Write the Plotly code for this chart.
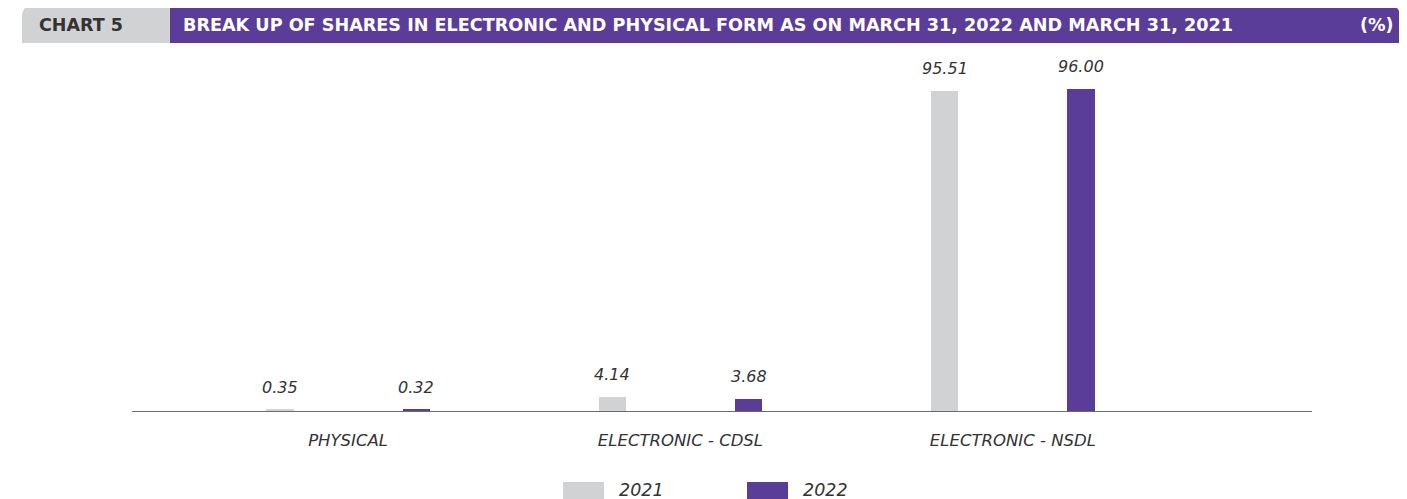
import plotly.graph_objects as go

categories = ["PHYSICAL", "ELECTRONIC - CDSL", "ELECTRONIC - NSDL"]
years = ["2021", "2022"]
values_2021 = [0.35, 4.14, 95.51]
values_2022 = [0.32, 3.68, 96.00]

OFF = 8  # browser body margin
W, H = 1407 - OFF, 499 - OFF
L, R, T, B = 132 - OFF, 1312 - OFF, 50 - OFF, 411 - OFF  # plot area in figure px
GRAY = "#D1D2D4"
PURPLE = "#5A3D99"
TXT = "#333333"
FONT = "DejaVu Sans"

def px(x):  # x in screenshot pixels
    return (x - OFF - L) / (R - L)

def py(y):
    return (B - (y - OFF)) / (B - T)

xpos = list(range(len(categories)))
off = 0.205
bw = 0.082

fig = go.Figure()
for vals, col, sign, name in [(values_2021, GRAY, -1, years[0]), (values_2022, PURPLE, 1, years[1])]:
    fig.add_trace(go.Bar(
        x=xpos, y=vals, name=name, marker=dict(color=col, line=dict(width=0)),
        width=bw, offset=sign * off - bw / 2, showlegend=False, hoverinfo="skip"))

annotations = []
for vals, sign in [(values_2021, -1), (values_2022, 1)]:
    for i, v in enumerate(vals):
        annotations.append(dict(
            x=xpos[i] + sign * off, y=v, xref="x", yref="y", text=f"<i>{v:.2f}</i>",
            showarrow=False, yanchor="bottom", yshift=11,
            font=dict(family=FONT, size=16, color=TXT)))

shapes = []
r = 12
def rounded_left(x0, x1, y0, y1):
    return (f"M {px(x0)},{py(y1)} L {px(x0)},{py(y0 + r)} Q {px(x0)},{py(y0)} {px(x0 + r)},{py(y0)} "
            f"L {px(x1)},{py(y0)} L {px(x1)},{py(y1)} Z")
def rounded_right(x0, x1, y0, y1):
    return (f"M {px(x0)},{py(y1)} L {px(x0)},{py(y0)} L {px(x1 - r)},{py(y0)} "
            f"Q {px(x1)},{py(y0)} {px(x1)},{py(y0 + r)} L {px(x1)},{py(y1)} Z")
shapes.append(dict(type="path", xref="paper", yref="paper", path=rounded_left(22, 171, 5, 43),
                   fillcolor=GRAY, line=dict(width=0), layer="below"))
shapes.append(dict(type="path", xref="paper", yref="paper", path=rounded_right(170, 1400, 5, 43),
                   fillcolor=PURPLE, line=dict(width=0), layer="below"))

annotations.append(dict(x=px(37), y=py(25), xref="paper", yref="paper", text="<b>CHART 5</b>",
                        showarrow=False, xanchor="left", yanchor="middle",
                        font=dict(family=FONT, size=17.5, color=TXT)))
annotations.append(dict(x=px(181), y=py(25), xref="paper", yref="paper",
                        text="<b>BREAK UP OF SHARES IN ELECTRONIC AND PHYSICAL FORM AS ON MARCH 31, 2022 AND MARCH 31, 2021</b>",
                        showarrow=False, xanchor="left", yanchor="middle",
                        font=dict(family=FONT, size=17.6, color="white")))
annotations.append(dict(x=px(1396), y=py(25), xref="paper", yref="paper", text="<b>(%)</b>",
                        showarrow=False, xanchor="right", yanchor="middle",
                        font=dict(family=FONT, size=17.5, color="white")))

# custom legend
for (x0, col, label) in [(563, GRAY, years[0]), (747, PURPLE, years[1])]:
    shapes.append(dict(type="rect", xref="paper", yref="paper", x0=px(x0), x1=px(x0 + 41),
                       y0=py(499), y1=py(482), fillcolor=col, line=dict(width=0)))
    annotations.append(dict(x=px(x0 + 54), y=py(490), xref="paper", yref="paper", text=f"<i>{label}</i>",
                            showarrow=False, xanchor="left", yanchor="middle",
                            font=dict(family=FONT, size=17.5, color=TXT)))

fig.update_layout(
    width=W, height=H, margin=dict(l=L, r=W - R, t=T, b=H - B, pad=0),
    paper_bgcolor="white", plot_bgcolor="white",
    font=dict(family=FONT, color=TXT),
    xaxis=dict(range=[-0.65, 2.9], tickvals=xpos, ticktext=[f"<i>{c}</i>" for c in categories],
               showgrid=False, zeroline=False, showline=True, linecolor="#6b6b6b", linewidth=1,
               ticks="", tickfont=dict(family=FONT, size=16.5, color=TXT), ticklabelstandoff=14),
    yaxis=dict(range=[0, (B - T) / 3.354], visible=False, showgrid=False, zeroline=False),
    bargap=0, shapes=shapes, annotations=annotations, showlegend=False,
)

fig.write_html("out.html")
